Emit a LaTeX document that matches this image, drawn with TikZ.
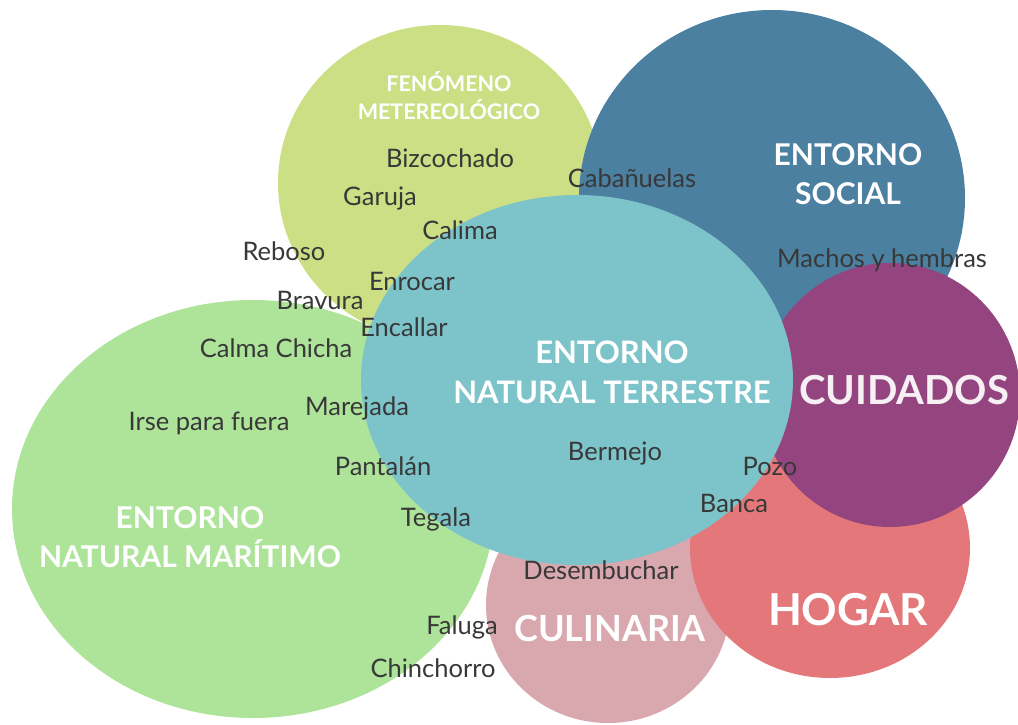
\documentclass[tikz,border=0pt]{standalone}
\usepackage{fontspec}
\setmainfont{Lato}
\usetikzlibrary{positioning, shapes.geometric}

\definecolor{maritimo}{HTML}{AEE39A}
\definecolor{fenomeno}{HTML}{CDDF85}
\definecolor{social}{HTML}{4B80A1}
\definecolor{culinaria}{HTML}{D9A8AF}
\definecolor{hogar}{HTML}{E37779}
\definecolor{cuidados}{HTML}{944580}
\definecolor{terrestre}{HTML}{7DC4CA}
\definecolor{termgray}{HTML}{383838}

\begin{document}
\begin{tikzpicture}[%
		x=1pt, y=-1pt,
		bubble/.style={
			ellipse,
			inner sep=0pt
		},
		term/.style={
			text=termgray,
			inner sep=0pt,
			font=\fontsize{25.5}{27}\selectfont
		},
		title/.style={
			text=white,
			inner sep=0pt,
			align=center,
			font=\bfseries\fontsize{30}{39}\selectfont
		},
		smalltitle/.style={
			title,
			font=\bfseries\fontsize{21.5}{28}\selectfont
		},
		bigtitle/.style={
			title,
			font=\bfseries\fontsize{42}{44}\selectfont
		}]

		\useasboundingbox (0,0) rectangle (1018,725);

		% BUBBLES

		\node (maritimo-bub) [bubble, fill=maritimo, minimum width=482, minimum height=418] at (253,509) {};
		\node (fenomeno-bub) [bubble, fill=fenomeno, minimum width=324, minimum height=316] at (440,183) {};
		\node (social-bub) [bubble, fill=social, minimum width=386, minimum height=376] at (772,198) {};
		\node (culinaria-bub) [bubble, fill=culinaria, minimum width=244, minimum height=236] at (608,605) {};
		\node (hogar-bub) [bubble, fill=hogar, minimum width=280, minimum height=260] at (830,548) {};
		\node (cuidados-bub) [bubble, fill=cuidados, minimum width=260, minimum height=264] at (890,395) {};
		\node (terrestre-bub) [bubble, fill=terrestre, minimum width=432, minimum height=370] at (577,380) {};

		% TITLES

		\node (fenomeno) [smalltitle] at (449,96) {FENÓMENO\\METEREOLÓGICO};
		\node (social) [title] at (848,174) {ENTORNO\\SOCIAL};
		\node (terrestre) [title, font=\bfseries\fontsize{31}{40}\selectfont] at (612,372) {ENTORNO\\NATURAL TERRESTRE};
		\node (maritimo) [title] at (190,537) {ENTORNO\\NATURAL MARÍTIMO};
		\node (cuidados) [bigtitle, font=\bfseries\fontsize{40}{44}\selectfont, text=white!92!cuidados] at (904,390) {CUIDADOS};
		\node (hogar) [bigtitle, font=\bfseries\fontsize{44}{46}\selectfont] at (848,610) {HOGAR};
		\node (culinaria) [title, font=\bfseries\fontsize{36}{38}\selectfont] at (610,628) {CULINARIA};

		% TERMS

		\node (bizcochado) [term] at (450,158) {Bizcochado};
		\node (cabanuelas) [term] at (632,178) {Cabañuelas};
		\node (garuja) [term] at (380,199) {Garuja};
		\node (calima) [term] at (460,230) {Calima};
		\node (reboso) [term] at (284,251) {Reboso};
		\node (machos) [term] at (882,260) {Machos y hembras};
		\node (enrocar) [term] at (412,281) {Enrocar};
		\node (bravura) [term] at (320,300) {Bravura};
		\node (encallar) [term] at (404,327) {Encallar};
		\node (calmachicha) [term] at (276,348) {Calma Chicha};
		\node (marejada) [term] at (357,408) {Marejada};
		\node (irse) [term] at (209,423) {Irse para fuera};
		\node (bermejo) [term] at (615,454) {Bermejo};
		\node (pantalan) [term] at (383,466) {Pantalán};
		\node (pozo) [term] at (770,466) {Pozo};
		\node (banca) [term] at (734,503) {Banca};
		\node (tegala) [term] at (436,519) {Tegala};
		\node (desembuchar) [term] at (601,570) {Desembuchar};
		\node (faluga) [term] at (462,627) {Faluga};
		\node (chinchorro) [term] at (433,668) {Chinchorro};
\end{tikzpicture}
\end{document}
